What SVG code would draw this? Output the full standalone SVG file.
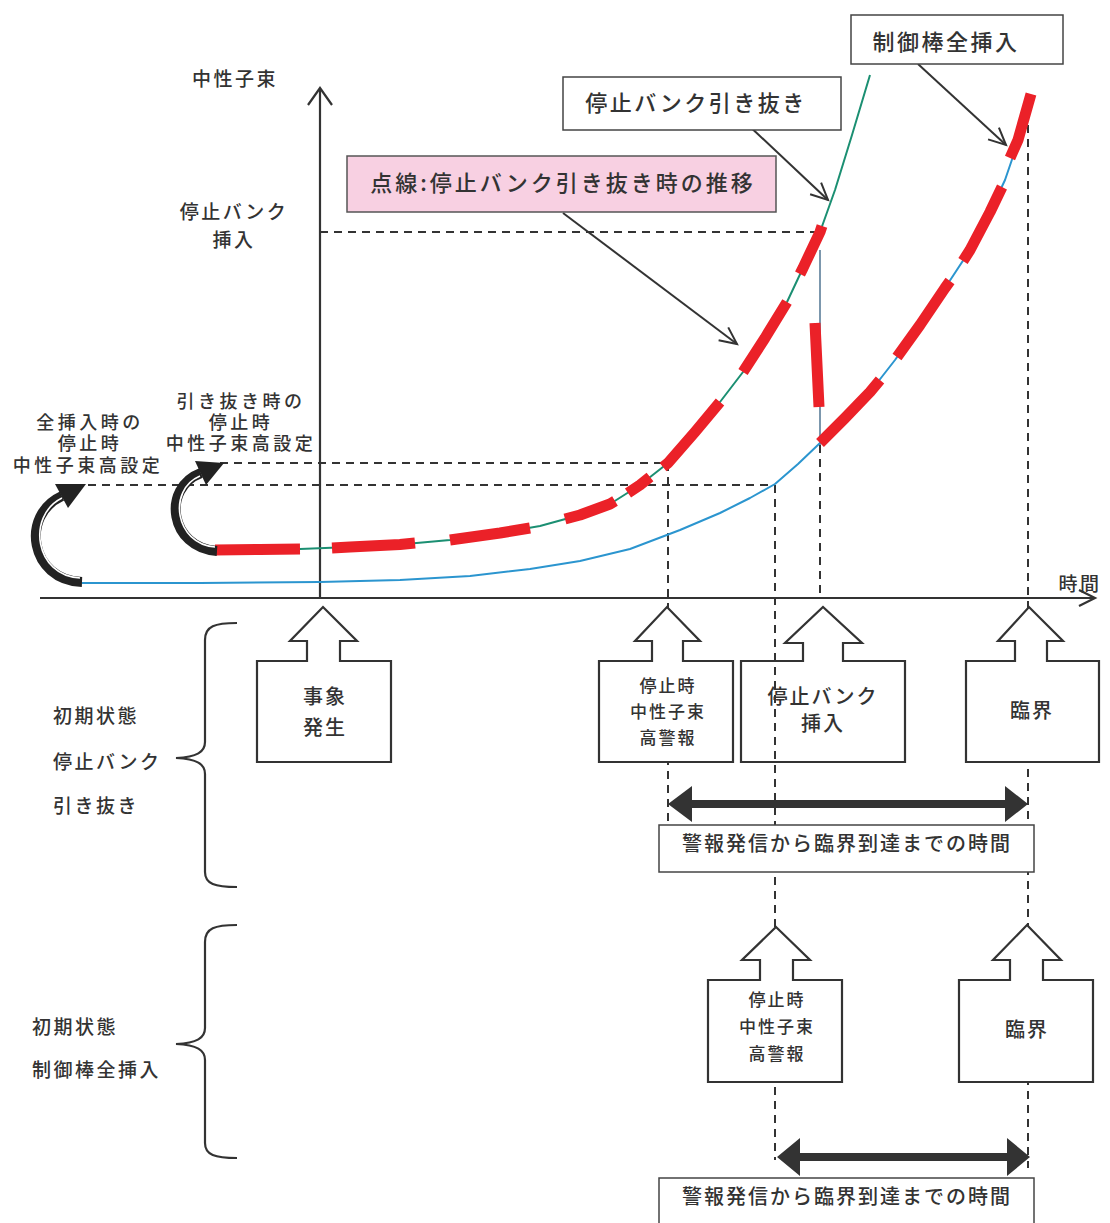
<svg xmlns="http://www.w3.org/2000/svg" width="1110" height="1223" viewBox="0 0 1110 1223">
<defs>
<style>
text{font-family:'Noto Sans CJK JP','Noto Sans CJK SC',sans-serif;fill:#333;font-weight:500;dominant-baseline:central}
.m{text-anchor:middle}
.s19{font-size:19px;letter-spacing:2.5px}
.s18{font-size:18px;letter-spacing:3.5px}
.s17{font-size:17px;letter-spacing:2px}
.s20{font-size:20px;letter-spacing:2px}
.s22{font-size:22px;letter-spacing:2.5px}
.axis{stroke:#333;stroke-width:2.2;fill:none}
.dash{stroke:#333;stroke-width:2;stroke-dasharray:8 6;fill:none}
.lead{stroke:#333;stroke-width:2;fill:none;marker-end:url(#open)}
.node{fill:#fff;stroke:#333;stroke-width:2.2}
.box{fill:#fff;stroke:#444;stroke-width:1.5}
.green{stroke:#1b8f72;stroke-width:2;fill:none;stroke-linejoin:round}
.blue{stroke:#2b95cf;stroke-width:2;fill:none;stroke-linejoin:round}
.red{stroke:#eb2128;stroke-width:11;fill:none;stroke-linejoin:round}
.dbl{fill:#333}
.curl{stroke:#222;stroke-width:10;fill:none}
.curlw{stroke:#fff;stroke-width:1.6;fill:none}
</style>
<marker id="open" viewBox="-20 -12 24 24" refX="0" refY="0" markerWidth="24" markerHeight="24" markerUnits="userSpaceOnUse" orient="auto">
<path d="M-17,-8 L0,0 L-17,8" fill="none" stroke="#333" stroke-width="2"/>
</marker>
</defs>

<g id="connectors">
<line class="axis" x1="40" y1="598" x2="1094" y2="598"/>
<path class="axis" d="M1079,590 L1095,598 L1079,606"/>
<line class="axis" x1="320" y1="598" x2="320" y2="90"/>
<path class="axis" d="M308,105 L320,88 L332,105"/>
<line class="dash" x1="320" y1="232" x2="818" y2="232"/>
<line class="dash" x1="220" y1="463" x2="668" y2="463"/>
<line class="dash" x1="88" y1="485" x2="775" y2="485"/>
<line class="dash" x1="668" y1="463" x2="668" y2="822"/>
<line class="dash" x1="820" y1="445" x2="820" y2="598"/>
<line class="dash" x1="1028" y1="125" x2="1028" y2="1168"/>
<line class="dash" x1="775" y1="485" x2="775" y2="1160"/>
<line x1="820" y1="250" x2="820" y2="445" stroke="#5b7d99" stroke-width="1.6"/>
<polyline class="green" points="215,550 260,549.5 300,549 350,547 400,544.5 450,540 500,533 540,526 580,515 610,504 640,485 668,463 695,432 720,402 743,372 765,338 787,302 803,268 820,232 835,190 852,135 870,75"/>
<polyline class="blue" points="82,583 200,583 320,582 400,580 470,576 530,569 580,561 630,549 680,530 720,513 750,498 775,484 798,464 820,443 845,418 870,392 895,360 920,325 945,288 970,250 990,212 1005,180 1018,142 1030,98"/>
<path class="red" d="M215,550 L260,549.5 L300,549 M332,548 L350,547 L400,544.5 L415,543 M450,540 L500,533 L530,528 M565,519 L580,515 L610,504 L615,501 M628,493 L640,485 L650,477 M663,467 L668,463 L695,432 L720,402 M743,372 L765,338 L787,302 M800,274 L803,268 L820,232 L822,226 M815,323 L819,407 M820,443 L845,418 L870,392 L880,380 M897,357 L920,325 L945,288 L950,281 M963,261 L970,250 L990,212 L1002,187 M1010,158 L1018,140 L1031,94"/>
<line class="lead" x1="563" y1="213" x2="737" y2="344"/>
<line class="lead" x1="745" y1="122" x2="828" y2="200"/>
<line class="lead" x1="918" y1="64" x2="1006" y2="145"/>
<path class="curl" d="M82,582 C30,580 20,515 62,496"/>
<path class="curlw" d="M80,578 C35,576 26,516 62,498"/>
<polygon points="86,484 68,508 55,484" fill="#222"/>
<path class="curl" d="M217,551 C170,548 161,488 201,473"/>
<path class="curlw" d="M215,547 C175,544 167,490 200,476"/>
<polygon points="224,463 206,485 195,461" fill="#222"/>
<polygon class="dbl" points="668,804 692,786 692,800 1005,800 1005,786 1028,804 1005,822 1005,808 692,808 692,822"/>
<polygon class="dbl" points="777,1157 800,1138 800,1153 1007,1153 1007,1138 1030,1157 1007,1176 1007,1161 800,1161 800,1176"/>
<path class="axis" stroke-width="1.6" d="M237,623 C215,623 205,626 205,640 L205,742 C205,752 197,757 176,758 C197,759 205,764 205,774 L205,872 C205,884 215,887 237,887"/>
<path class="axis" stroke-width="1.6" d="M237,925 C215,925 205,928 205,942 L205,1028 C205,1038 197,1043 176,1044 C197,1045 205,1050 205,1060 L205,1143 C205,1155 215,1158 237,1158"/>
</g>

<g id="axis-labels">
<text class="m s19" x="235" y="77">中性子束</text>
<text class="m s19" x="234" y="210">停止バンク</text>
<text class="m s19" x="234" y="238">挿入</text>
<text class="m s19" x="1080" y="582">時間</text>
</g>

<g id="label-full-insert">
<text class="m s18" x="90" y="421">全挿入時の</text>
<text class="m s18" x="90" y="442">停止時</text>
<text class="m s18" x="88" y="464">中性子束高設定</text>
</g>

<g id="label-withdraw">
<text class="m s18" x="241" y="400">引き抜き時の</text>
<text class="m s18" x="241" y="421">停止時</text>
<text class="m s18" x="241" y="442">中性子束高設定</text>
</g>

<g id="legend-dotted">
<rect x="347" y="156" width="429" height="56" fill="#f8d0e2" stroke="#555" stroke-width="1.5"/>
<text class="m" x="563" y="181" style="font-size:22px;letter-spacing:3px">点線:停止バンク引き抜き時の推移</text>
</g>

<g id="callout-withdraw">
<rect class="box" x="563" y="77" width="278" height="53"/>
<text class="m s22" x="696" y="101">停止バンク引き抜き</text>
</g>

<g id="callout-full-insert">
<rect class="box" x="851" y="15" width="212" height="49"/>
<text class="m s22" x="946" y="40">制御棒全挿入</text>
</g>

<g id="node-event">
<path class="node" d="M257,661 H307 V641 H290 L323,607 L357,641 H340 V661 H391 V762 H257 Z"/>
<text class="m s20" x="325" y="695">事象</text>
<text class="m s20" x="325" y="726">発生</text>
</g>

<g id="node-alarm-1">
<path class="node" d="M599,661 H652 V641 H635 L667,607 L700,641 H683 V661 H733 V762 H599 Z"/>
<text class="m s17" x="668" y="684">停止時</text>
<text class="m s17" x="668" y="710">中性子束</text>
<text class="m s17" x="668" y="736">高警報</text>
</g>

<g id="node-bank-insert">
<path class="node" style="fill:none" d="M741,661 H803 V643 H785 L823,607 L862,643 H843 V661 H905 V762 H741 Z"/>
<text class="m s20" x="823" y="695">停止バンク</text>
<text class="m s20" x="823" y="722">挿入</text>
</g>

<g id="node-critical-1">
<path class="node" d="M966,661 H1015 V641 H998 L1029,607 L1063,641 H1047 V661 H1099 V762 H966 Z"/>
<text class="m s20" x="1032" y="709">臨界</text>
</g>

<g id="label-time-1">
<rect class="box" x="659" y="825" width="375" height="47"/>
<text class="m s20" x="847" y="842">警報発信から臨界到達までの時間</text>
</g>

<g id="node-alarm-2">
<path class="node" d="M708,980 H760 V960 H742 L776,927 L810,960 H793 V980 H842 V1082 H708 Z"/>
<text class="m s17" x="777" y="998">停止時</text>
<text class="m s17" x="777" y="1025">中性子束</text>
<text class="m s17" x="777" y="1052">高警報</text>
</g>

<g id="node-critical-2">
<path class="node" d="M959,980 H1010 V960 H993 L1027,925 L1061,960 H1043 V980 H1093 V1082 H959 Z"/>
<text class="m s20" x="1027" y="1028">臨界</text>
</g>

<g id="label-time-2">
<rect class="box" x="659" y="1178" width="375" height="60"/>
<text class="m s20" x="847" y="1195">警報発信から臨界到達までの時間</text>
</g>

<g id="case-labels">
<text class="s19" x="53" y="714">初期状態</text>
<text class="s19" x="53" y="760">停止バンク</text>
<text class="s19" x="53" y="804">引き抜き</text>
<text class="s19" x="32" y="1025">初期状態</text>
<text class="s19" x="32" y="1068">制御棒全挿入</text>
</g>
</svg>
